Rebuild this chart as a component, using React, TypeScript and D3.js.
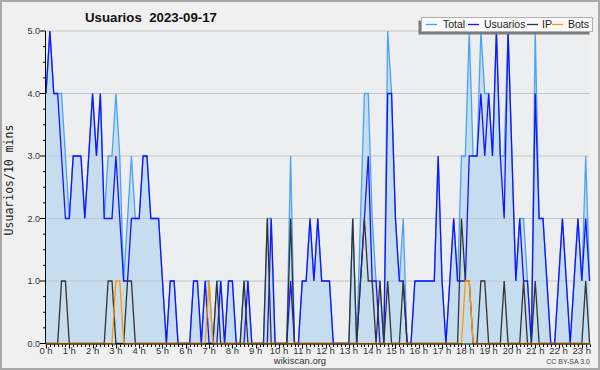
import React from 'react';
import * as d3 from 'd3';

// 10-minute slots from 00:00 (one row per hour)
const usuarios = [
  4, 5, 4, 4, 3, 2,
  2, 3, 3, 3, 2, 3,
  4, 3, 4, 2, 2, 2,
  3, 2, 1, 1, 2, 2,
  2, 3, 3, 2, 2, 2,
  1, 0, 1, 1, 0, 0,
  0, 0, 1, 1, 0, 1,
  0, 0, 0, 1, 0, 1,
  1, 0, 0, 0, 1, 0,
  0, 0, 0, 0, 2, 0,
  0, 0, 0, 1, 0, 0,
  1, 1, 2, 1, 2, 1,
  1, 1, 0, 0, 0, 0,
  0, 0, 0, 1, 2, 3,
  1, 1, 0, 0, 4, 4,
  2, 1, 1, 0, 0, 1,
  1, 1, 1, 1, 1, 3,
  1, 0, 1, 2, 1, 1,
  1, 3, 3, 3, 4, 3,
  4, 3, 5, 3, 2, 5,
  3, 1, 2, 1, 1, 0,
  4, 2, 2, 1, 0, 0,
  1, 2, 1, 0, 1, 2,
  1, 2, 1,
];

const ip = [
  0, 0, 0, 0, 1, 1,
  0, 0, 0, 0, 0, 0,
  0, 0, 0, 0, 1, 1,
  0, 0, 0, 1, 1, 0,
  0, 0, 0, 0, 0, 0,
  0, 0, 0, 0, 0, 0,
  0, 0, 0, 0, 0, 0,
  0, 0, 1, 0, 0, 0,
  0, 0, 0, 1, 0, 0,
  0, 0, 0, 2, 0, 0,
  0, 0, 0, 2, 0, 0,
  0, 0, 0, 0, 0, 0,
  0, 0, 0, 0, 0, 0,
  0, 2, 0, 1, 2, 1,
  1, 0, 1, 0, 1, 0,
  0, 0, 1, 0, 0, 0,
  0, 0, 0, 0, 0, 0,
  0, 0, 0, 0, 0, 2,
  1, 1, 0, 0, 1, 1,
  0, 0, 0, 0, 1, 0,
  0, 0, 0, 1, 0, 0,
  1, 0, 0, 0, 0, 0,
  0, 0, 0, 0, 0, 0,
  0, 1, 0,
];

const bots = [
  0, 0, 0, 0, 0, 0,
  0, 0, 0, 0, 0, 0,
  0, 0, 0, 0, 0, 0,
  1, 1, 0, 0, 0, 0,
  0, 0, 0, 0, 0, 0,
  0, 0, 0, 0, 0, 0,
  0, 0, 0, 0, 0, 0,
  1, 0, 0, 0, 0, 0,
  0, 0, 0, 0, 0, 0,
  0, 0, 0, 0, 0, 0,
  0, 0, 0, 0, 0, 0,
  0, 0, 0, 0, 0, 0,
  0, 0, 0, 0, 0, 0,
  0, 0, 0, 0, 0, 0,
  0, 0, 0, 0, 0, 0,
  0, 0, 0, 0, 0, 0,
  0, 0, 0, 0, 0, 0,
  0, 0, 0, 0, 0, 0,
  1, 1, 0, 0, 0, 0,
  0, 0, 0, 0, 0, 0,
  0, 0, 0, 0, 0, 0,
  0, 0, 0, 0, 0, 0,
  0, 0, 0, 0, 0, 0,
  0, 0, 0,
];

const total = [
  4, 5, 4, 4, 4, 3,
  2, 3, 3, 3, 2, 3,
  4, 3, 4, 2, 3, 3,
  4, 3, 1, 2, 3, 2,
  2, 3, 3, 2, 2, 2,
  1, 0, 1, 1, 0, 0,
  0, 0, 1, 1, 0, 1,
  1, 0, 1, 1, 0, 1,
  1, 0, 0, 1, 1, 0,
  0, 0, 0, 2, 2, 0,
  0, 0, 0, 3, 0, 0,
  1, 1, 2, 1, 2, 1,
  1, 1, 0, 0, 0, 0,
  0, 2, 0, 2, 4, 4,
  2, 1, 1, 0, 5, 4,
  2, 1, 2, 0, 0, 1,
  1, 1, 1, 1, 1, 3,
  1, 0, 1, 2, 1, 3,
  3, 5, 3, 3, 5, 4,
  4, 3, 5, 3, 3, 5,
  3, 1, 2, 2, 1, 0,
  5, 2, 2, 1, 0, 0,
  1, 2, 1, 0, 1, 2,
  1, 3, 1,
];

const hourLabels = [
  '0 h', '1 h', '2 h', '3 h', '4 h', '5 h', '6 h', '7 h', '8 h', '9 h', '10 h', '11 h',
  '12 h', '13 h', '14 h', '15 h', '16 h', '17 h', '18 h', '19 h', '20 h', '21 h', '22 h', '23 h',
];
const yTickValues = [0, 1, 2, 3, 4, 5];
const yTickLabels = ['0.0', '1.0', '2.0', '3.0', '4.0', '5.0'];

const legendItems = [
  { name: 'Total', color: '#4aa3f2' },
  { name: 'Usuarios', color: '#1414ff' },
  { name: 'IP', color: '#333333' },
  { name: 'Bots', color: '#ff9a00' },
];

export default function App() {
  const W = 600;
  const H = 370;
  const left = 46;
  const right = 589.6;
  const top = 31;
  const bottom = 343.5;
  const n = total.length;
  const x = d3.scaleLinear().domain([0, n - 1]).range([left, right]);
  const y = d3.scaleLinear().domain([0, 5]).range([bottom, top]);
  const line = d3.line<number>().x((_, i) => x(i)).y((d) => y(d));
  const area = d3.area<number>().x((_, i) => x(i)).y0(y(0)).y1((d) => y(d));
  const minorY = d3.range(0, 5.001, 0.25);
  const font = "'Liberation Sans', Arial, sans-serif";

  const series = [
    { data: total, color: legendItems[0].color },
    { data: usuarios, color: legendItems[1].color },
    { data: ip, color: legendItems[2].color },
    { data: bots, color: legendItems[3].color },
  ];

  // legend geometry
  const legX = 421.5;
  const legY = 17.5;
  const legW = 171;
  const legH = 14;
  const legendPos = [426, 468, 527, 552];
  const legendTextPos = [443, 484, 542, 568];

  return (
    <svg width={W} height={H} style={{ position: 'absolute', left: 0, top: 0 }}
      fontFamily={font}>
      <rect x={0} y={0} width={W} height={H} fill="#f0f0f0" />
      <rect x={1} y={1} width={W - 2} height={H - 2} fill="none" stroke="#a8a8a8" strokeWidth={2} />
      <rect x={left} y={top} width={right - left} height={bottom - top} fill="#eceef0" />

      <path d={area(total) || ''} fill="#c6ddf0" />

      {yTickValues.filter((v) => v > 0).map((v) => (
        <line key={v} x1={left} x2={right} y1={y(v)} y2={y(v)} stroke="#c4c6c8" strokeWidth={1.2} />
      ))}

      {series.map((s, k) => (
        <path key={k} d={line(s.data) || ''} fill="none" stroke={s.color} strokeWidth={1.3}
          strokeLinejoin="miter" />
      ))}

      {/* y axis */}
      <line x1={left - 0.5} x2={left - 0.5} y1={top} y2={bottom + 0.5} stroke="#000" strokeWidth={1} />
      {minorY.map((v, k) => (
        <line key={k} x1={left - (k % 4 === 0 ? 6 : 3)} x2={left - 0.5} y1={y(v)} y2={y(v)}
          stroke="#000" strokeWidth={1} />
      ))}
      {yTickValues.map((v, k) => (
        <text key={v} x={40} y={y(v) + 3} textAnchor="end" fontSize={9} fill="#333">
          {yTickLabels[k]}
        </text>
      ))}

      {/* x axis */}
      <line x1={left - 0.5} x2={right + 0.5} y1={bottom + 0.5} y2={bottom + 0.5} stroke="#000" strokeWidth={1} />
      {d3.range(n).map((i) => (
        <line key={i} x1={Math.round(x(i)) + 0.5} x2={Math.round(x(i)) + 0.5} y1={bottom + 1}
          y2={bottom + (i % 6 === 0 ? 5 : 3.5)} stroke="#000" strokeWidth={1} />
      ))}
      {hourLabels.map((lab, h) => (
        <text key={lab} x={x(h * 6)} y={353.5} textAnchor="middle" fontSize={9.5} fill="#333">
          {lab}
        </text>
      ))}

      {/* y axis title */}
      <text transform="translate(13,180) rotate(-90)" textAnchor="middle"
        fontFamily="'DejaVu Sans Mono', monospace" fontSize={11.5} fill="#222">
        Usuarios/10 mins
      </text>

      {/* title */}
      <text x={85} y={22} fontSize={13.5} fontWeight="bold" fill="#111" textLength={132}
        lengthAdjust="spacingAndGlyphs" style={{ whiteSpace: 'pre' }}>
        {'Usuarios\u00a0\u00a02023-09-17'}
      </text>

      {/* legend */}
      <rect x={legX - 3} y={legY + 3} width={legW} height={legH} fill="#7a7a7a" />
      <rect x={legX} y={legY} width={legW} height={legH} fill="#fafafa" stroke="#b0b0b0" strokeWidth={1} />
      {legendItems.map((it, k) => (
        <g key={it.name}>
          <line x1={legendPos[k]} x2={legendPos[k] + 11} y1={legY + 7} y2={legY + 7} stroke={it.color} strokeWidth={1.3} />
          <text x={legendTextPos[k]} y={legY + 10.5} fontSize={10.5} fill="#222">{it.name}</text>
        </g>
      ))}

      {/* footer */}
      <text x={300} y={363.5} textAnchor="middle" fontSize={9.5} fill="#333">wikiscan.org</text>
      <text x={590} y={364} textAnchor="end" fontSize={7} fill="#444">CC BY-SA 3.0</text>
    </svg>
  );
}
